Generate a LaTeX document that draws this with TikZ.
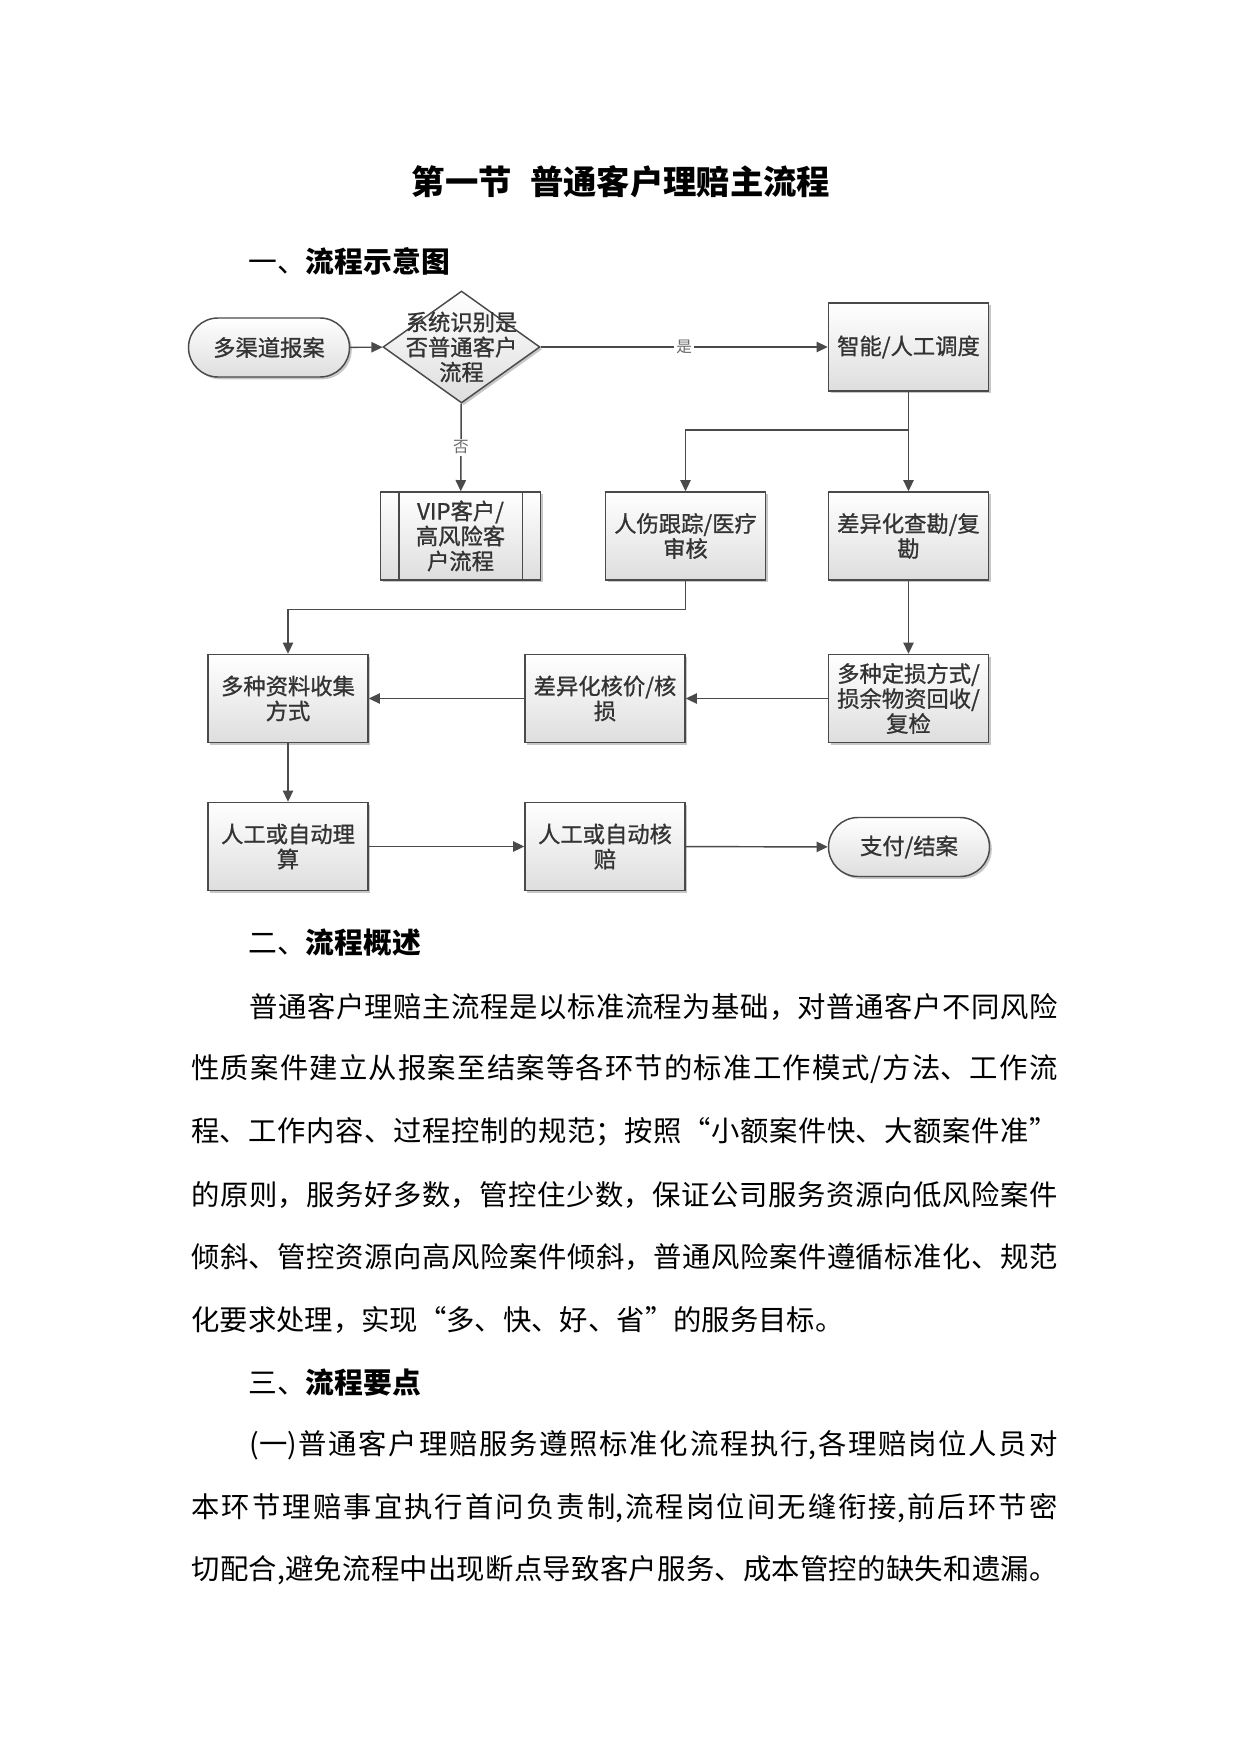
\documentclass[tikz,border=0pt]{standalone}
\usepackage{fontspec}
\setmainfont{Noto Sans CJK SC}
\newfontfamily\bxfam{Noto Sans CJK SC}[FakeBold=1.0]
\usetikzlibrary{shapes.geometric,shapes.misc,arrows.meta,shadows}
\XeTeXlinebreaklocale "zh"
\XeTeXlinebreakskip=0pt plus 2pt minus 0.1pt
\newdimen\PX \PX=0.4797pt
\definecolor{edgec}{HTML}{4A4A4A}
\definecolor{boxtxt}{HTML}{333333}
\definecolor{lblc}{HTML}{6A6A6A}
\newcommand\bxfont{\bxfam\fontsize{10.7pt}{12pt}\selectfont}
\newcommand\bodyfnt{\fontsize{13.6pt}{16pt}\selectfont}
\newcommand\headfnt{\fontsize{13.8pt}{16pt}\selectfont}
\newcommand\ttlfnt{\fontsize{16pt}{19pt}\selectfont\bfseries}
\tikzset{
  shade/.style={top color=white, bottom color=black!13},
  shadowed/.style={drop shadow={shadow xshift=1.1pt, shadow yshift=-1.1pt, opacity=0.22, fill=black}},
  box/.style={draw=edgec, line width=0.7pt, shade, shadowed, minimum width=160\PX, minimum height=88\PX,
    inner sep=0pt, align=center, text=boxtxt, font=\bxfont},
  pill/.style={rounded rectangle, draw=edgec, line width=0.7pt, shade, shadowed, minimum width=161\PX,
    minimum height=59\PX, inner sep=0pt, text=boxtxt, font=\bxfont},
  dia/.style={diamond, draw=edgec, line width=0.7pt, shade, shadowed, minimum width=157\PX,
    minimum height=112\PX, inner sep=0pt},
  plain/.style={inner sep=0pt, align=center, text=boxtxt, font=\bxfont},
  arr/.style={draw=edgec, line width=0.7pt, -{Triangle[length=5.4pt,width=5pt]}},
  lbl/.style={fill=white, inner sep=1pt, text=lblc, font=\fontsize{7.5pt}{8pt}\selectfont},
  heading/.style={anchor=west, inner sep=0pt, font=\headfnt},
  bodyline/.style={anchor=west, inner sep=0pt, text width=#1, align=justify, font=\bodyfnt},
}
\begin{document}
\begin{tikzpicture}[x=0.4797pt, y=-0.4797pt]
\useasboundingbox (0,0) rectangle (1241,1754);
\fill[white] (0,0) rectangle (1241,1754);

% title and first heading
\node[inner sep=0pt, font=\ttlfnt] (title) at (621,182) {第一节\hspace{0.55em}普通客户理赔主流程};
\node[heading] (h1) at (248,261) {一、\textbf{流程示意图}};

% flowchart nodes
\node[pill] (start) at (269,347.5) {多渠道报案};
\node[dia] (dec) at (461.5,347) {};
\node[plain] (dectext) at (461.5,347) {系统识别是\\否普通客户\\流程};
\node[box] (disp) at (908.5,347) {智能/人工调度};

\node[box] (vip) at (460.5,536) {VIP客户/\\高风险客\\户流程};
\draw[draw=edgec, line width=0.7pt] ([xshift=19\PX]vip.north west) -- ([xshift=19\PX]vip.south west);
\draw[draw=edgec, line width=0.7pt] ([xshift=-19\PX]vip.north east) -- ([xshift=-19\PX]vip.south east);
\node[box] (inj) at (685.5,536) {人伤跟踪/医疗\\审核};
\node[box] (surv) at (908.5,536) {差异化查勘/复\\勘};

\node[box] (docs) at (288,698.5) {多种资料收集\\方式};
\node[box] (price) at (605,698.5) {差异化核价/核\\损};
\node[box] (loss) at (908.5,698.5) {多种定损方式/\\损余物资回收/\\复检};

\node[box] (calc) at (288,846.5) {人工或自动理\\算};
\node[box] (appr) at (605,846.5) {人工或自动核\\赔};
\node[pill] (pay) at (909,847) {支付/结案};

\coordinate (split) at (908.5,430);

% connectors
\draw[arr] (start) -- (dec);
\draw[arr] (dec) -- node[lbl]{是} (disp);
\draw[arr] (dec) -- node[lbl]{否} (vip);
\draw[arr] (disp) -- (surv);
\draw[arr] (split) -| (inj);
\draw[arr] (inj.south) -- ++(0,29) -| (docs.north);
\draw[arr] (surv) -- (loss);
\draw[arr] (loss) -- (price);
\draw[arr] (price) -- (docs);
\draw[arr] (docs) -- (calc);
\draw[arr] (calc) -- (appr);
\draw[arr] (appr) -- (pay);

% section two
\node[heading] (h2) at (248,943) {二、\textbf{流程概述}};
\node[bodyline=808\PX] (p1) at (249,1007) {\parfillskip=0pt\relax\noindent 普通客户理赔主流程是以标准流程为基础，对普通客户不同风险\par};
\node[bodyline=866\PX] (p2) at (191,1069.5) {\parfillskip=0pt\relax\noindent 性质案件建立从报案至结案等各环节的标准工作模式/方法、工作流\par};
\node[bodyline=866\PX] (p3) at (191,1132) {\parfillskip=0pt\relax\noindent 程、工作内容、过程控制的规范；按照“小额案件快、大额案件准”\par};
\node[bodyline=866\PX] (p4) at (191,1194.5) {\parfillskip=0pt\relax\noindent 的原则，服务好多数，管控住少数，保证公司服务资源向低风险案件\par};
\node[bodyline=866\PX] (p5) at (191,1257) {\parfillskip=0pt\relax\noindent 倾斜、管控资源向高风险案件倾斜，普通风险案件遵循标准化、规范\par};
\node[anchor=west, inner sep=0pt, font=\bodyfnt] (p6) at (191,1320) {化要求处理，实现“多、快、好、省”的服务目标。};

% section three
\node[heading] (h3) at (248,1383) {三、\textbf{流程要点}};
\node[bodyline=808\PX] (q1) at (249,1445.5) {\parfillskip=0pt\relax\noindent (一)普通客户理赔服务遵照标准化流程执行,各理赔岗位人员对\par};
\node[bodyline=866\PX] (q2) at (191,1508) {\parfillskip=0pt\relax\noindent 本环节理赔事宜执行首问负责制,流程岗位间无缝衔接,前后环节密\par};
\node[bodyline=866\PX] (q3) at (191,1570.5) {\parfillskip=0pt\relax\noindent 切配合,避免流程中出现断点导致客户服务、成本管控的缺失和遗漏。\par};
\end{tikzpicture}
\end{document}
